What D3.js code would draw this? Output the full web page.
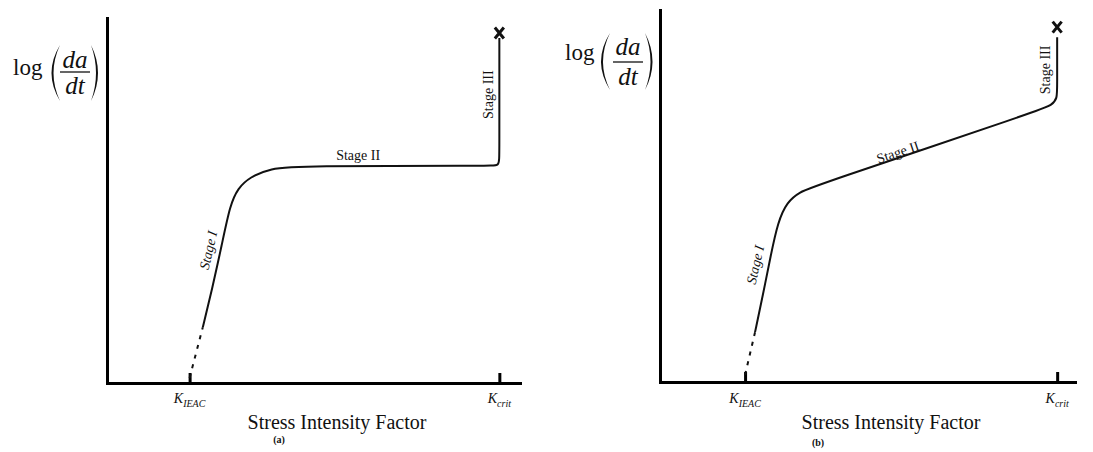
<!DOCTYPE html>
<html>
<head>
<meta charset="utf-8">
<script src="https://cdn.jsdelivr.net/npm/d3@7"></script>
<style>
  body { margin: 0; background: #fff; }
  svg { display: block; }
  .axis path, .axis line { stroke: #000; stroke-width: 3; }
  text { font-family: "Liberation Serif", "Times New Roman", serif; fill: #111; }
</style>
</head>
<body>
<div id="wrapper"></div>
<script>
// ---- data (abstract units: x = stress intensity, y = log crack growth rate) ----
const ticksA = [2.0, 9.5];
const ticksB = [2.05, 9.57];
const tickNames = [["K", "IEAC"], ["K", "crit"]];

const dashA = [[2.0, 0.14], [2.32, 1.53]];
const curveA = [[2.32, 1.53], [2.54, 2.55], [2.78, 3.78], [2.98, 4.88], [3.17, 5.34], [3.46, 5.64],
                [3.95, 5.88], [4.67, 5.95], [9.27, 5.95], [9.5, 5.95], [9.5, 6.22], [9.5, 9.45]];
const endA = [9.5, 9.59];

const dashB = [[2.05, 0.19], [2.29, 1.34]];
const curveB = [[2.29, 1.34], [2.48, 2.34], [2.67, 3.41], [2.84, 4.30], [3.06, 4.84], [3.37, 5.11],
                [3.73, 5.27], [9.16, 7.31], [9.45, 7.45], [9.57, 7.63], [9.57, 7.90], [9.57, 9.27]];
const endB = [9.57, 9.54];

const stagesA = [
  {text: "Stage I", x: 2.45, y: 3.64, angle: -77, italic: true},
  {text: "Stage II", x: 6.08, y: 6.25, angle: 0, italic: false},
  {text: "Stage III", x: 9.23, y: 7.90, angle: -90, italic: false}
];
const stagesB = [
  {text: "Stage I", x: 2.29, y: 3.15, angle: -77, italic: true},
  {text: "Stage II", x: 5.73, y: 6.18, angle: -18.5, italic: false},
  {text: "Stage III", x: 9.28, y: 8.39, angle: -90, italic: false}
];

const xTitle = "Stress Intensity Factor";

// ---- layout ----
const width = 1093, height = 452;
const svg = d3.select("#wrapper").append("svg")
              .attr("width", width)
              .attr("height", height);

const panels = [
  {ticks: ticksA, dash: dashA, curve: curveA, end: endA, stages: stagesA, tag: "(a)",
   x0: 107, x1: 520, y0: 383, y1: 18,
   titleX: 337, tagX: 279, tagY: 443,
   logX: 13, logY: 75, fracX: 75, daY: 68, barY: 72, dtY: 94, parL: [48, 60], parR: [91, 100], parY: [45, 101]},
  {ticks: ticksB, dash: dashB, curve: curveB, end: endB, stages: stagesB, tag: "(b)",
   x0: 660, x1: 1075, y0: 382, y1: 10,
   titleX: 891, tagX: 818, tagY: 446,
   logX: 565, logY: 60, fracX: 628, daY: 55, barY: 62, dtY: 85, parL: [597, 610], parR: [645, 655], parY: [33, 90]}
];

const lineMaker = (xScale, yScale) => d3.line()
            .x(d => xScale(d[0]))
            .y(d => yScale(d[1]));

panels.forEach(p => {
  let xScale = d3.scaleLinear().domain([0, 10]).range([p.x0, p.x1]);
  let yScale = d3.scaleLinear().domain([0, 10]).range([p.y0, p.y1]);

  let g = svg.append("g");

  // axes
  g.append("g")
   .attr("class", "axis")
   .attr("transform", `translate(0, ${p.y0})`)
   .call(d3.axisBottom(xScale).tickValues(p.ticks).tickSizeInner(-10).tickSizeOuter(0).tickFormat(""))
   .selectAll("line").attr("stroke-width", 2);

  g.append("g")
   .attr("class", "axis")
   .attr("transform", `translate(${p.x0}, 0)`)
   .call(d3.axisLeft(yScale).tickValues([]).tickSizeOuter(0));

  g.selectAll(".axis path").attr("stroke-linecap", "square");

  // tick labels K_IEAC and K_crit
  p.ticks.forEach((t, i) => {
    let lbl = g.append("text")
               .attr("x", xScale(t))
               .attr("y", 403)
               .attr("text-anchor", "middle")
               .style("font-style", "italic");
    lbl.append("tspan").style("font-size", "14px").text(tickNames[i][0]);
    lbl.append("tspan").style("font-size", "10px").attr("dy", 4).text(tickNames[i][1]);
  });

  // curves
  g.append("path")
   .attr("d", lineMaker(xScale, yScale)(p.dash))
   .attr("fill", "none")
   .attr("stroke", "#111")
   .attr("stroke-width", 2)
   .attr("stroke-dasharray", "4,6");

  g.append("path")
   .attr("d", lineMaker(xScale, yScale).curve(d3.curveBasis)(p.curve))
   .attr("fill", "none")
   .attr("stroke", "#111")
   .attr("stroke-width", 2);

  // failure marker
  let ex = xScale(p.end[0]), ey = yScale(p.end[1]);
  g.append("path")
   .attr("d", `M${ex - 4.5},${ey - 5.5}L${ex + 4.5},${ey + 5.5}M${ex + 4.5},${ey - 5.5}L${ex - 4.5},${ey + 5.5}`)
   .attr("stroke", "#111")
   .attr("stroke-width", 3);

  // stage labels
  p.stages.forEach(s => {
    g.append("text")
     .attr("transform", `translate(${xScale(s.x)}, ${yScale(s.y)}) rotate(${s.angle})`)
     .attr("dy", "0.35em")
     .attr("text-anchor", "middle")
     .style("font-size", "14px")
     .style("font-style", s.italic ? "italic" : "normal")
     .text(s.text);
  });

  // x title and panel tag
  g.append("text")
   .attr("x", p.titleX)
   .attr("y", 429)
   .attr("text-anchor", "middle")
   .style("font-size", "20px")
   .text(xTitle);

  g.append("text")
   .attr("x", p.tagX)
   .attr("y", p.tagY)
   .attr("text-anchor", "middle")
   .style("font-size", "10px")
   .style("font-weight", "bold")
   .text(p.tag);

  // y title: log(da/dt)
  g.append("text")
   .attr("x", p.logX)
   .attr("y", p.logY)
   .style("font-size", "23px")
   .text("log");

  g.append("text")
   .attr("x", p.fracX)
   .attr("y", p.daY)
   .attr("text-anchor", "middle")
   .style("font-size", "25px")
   .style("font-style", "italic")
   .text("da");

  g.append("text")
   .attr("x", p.fracX)
   .attr("y", p.dtY)
   .attr("text-anchor", "middle")
   .style("font-size", "25px")
   .style("font-style", "italic")
   .text("dt");

  g.append("line")
   .attr("x1", p.fracX - 15)
   .attr("x2", p.fracX + 15)
   .attr("y1", p.barY)
   .attr("y2", p.barY)
   .attr("stroke", "#111")
   .attr("stroke-width", 1.3);

  let midY = (p.parY[0] + p.parY[1]) / 2;
  // parentheses as crescents
  g.append("path")
   .attr("d", `M${p.parL[1]},${p.parY[0]} Q${p.parL[0] - 5},${midY} ${p.parL[1]},${p.parY[1]}
               Q${p.parL[0] - 1},${midY} ${p.parL[1]},${p.parY[0]}Z`)
   .attr("fill", "#111");
  g.append("path")
   .attr("d", `M${p.parR[0]},${p.parY[0]} Q${p.parR[1] + 5},${midY} ${p.parR[0]},${p.parY[1]}
               Q${p.parR[1] + 1},${midY} ${p.parR[0]},${p.parY[0]}Z`)
   .attr("fill", "#111");
});
</script>
</body>
</html>
